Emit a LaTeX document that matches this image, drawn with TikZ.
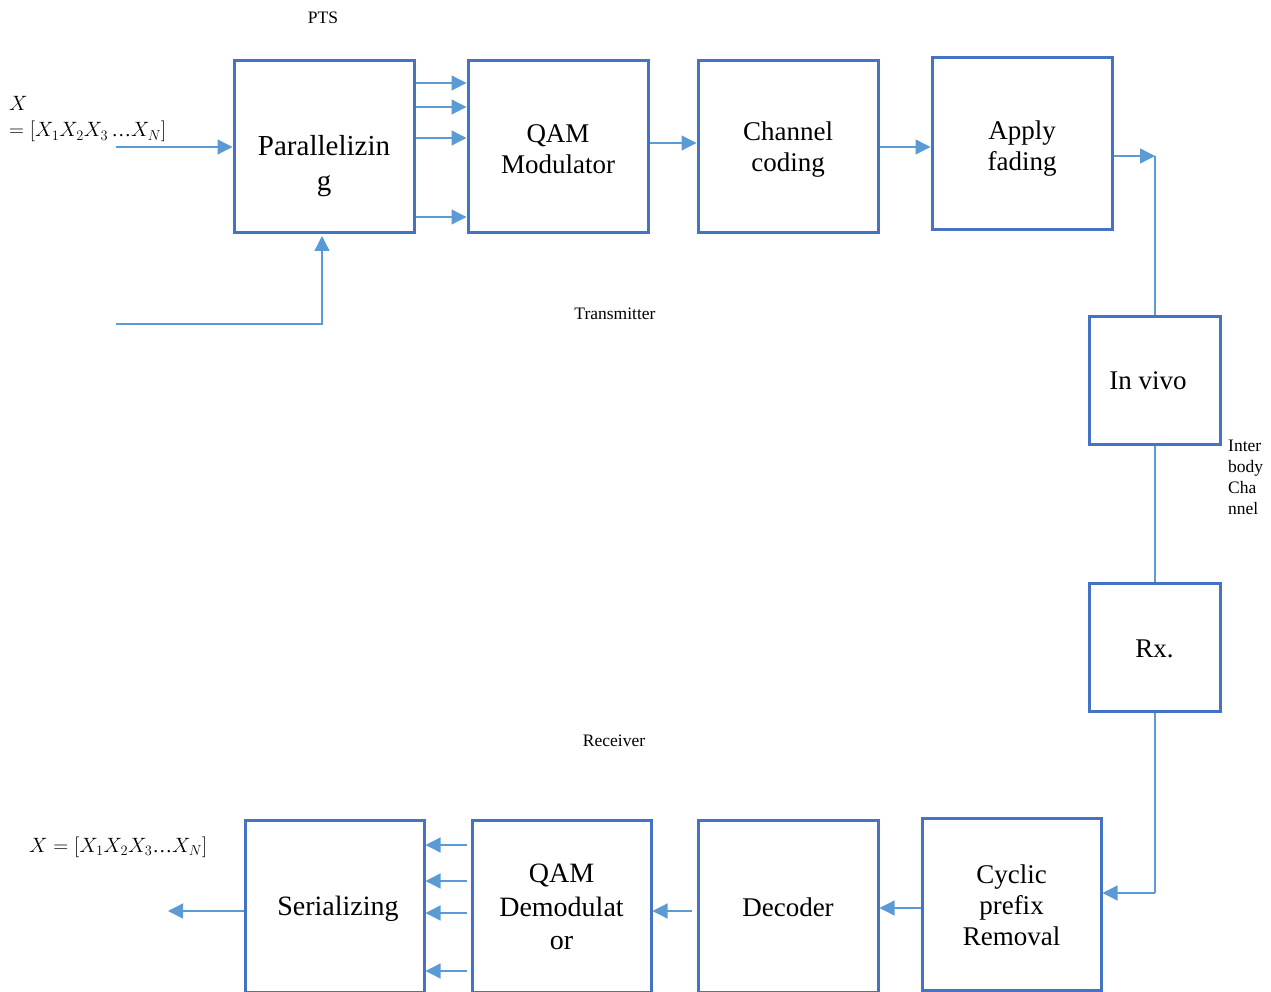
\documentclass[tikz,border=0pt]{standalone}
\usepackage{fontspec}
\setmainfont{Liberation Serif}
\usetikzlibrary{arrows.meta}
\definecolor{boxblue}{RGB}{68,114,196}
\definecolor{arrowblue}{RGB}{91,155,213}
\tikzset{
  box/.style={draw=boxblue, line width=3pt, minimum width=#1, inner sep=0pt},
  box/.default=180pt,
  txt/.style={align=center, font=\fontsize{27}{31}\selectfont, inner sep=0pt},
  bigtxt/.style={align=center, font=\fontsize{29}{35}\selectfont, inner sep=0pt},
  small/.style={font=\fontsize{17.5}{21}\selectfont, inner sep=0pt},
  conn/.style={draw=arrowblue, line width=1.3pt},
  arr/.style={-{Triangle[length=15pt,width=15pt]}},
}
\begin{document}
\begin{tikzpicture}[x=1pt,y=-1pt]
\useasboundingbox (0,0) rectangle (1271,992);
% transmitter chain
\node[box, minimum height=172pt] (par) at (324,147) {};
\node[bigtxt] (partxt) at (324,166) {Parallelizin\\g};
\node[box, minimum height=172pt] (qam) at (558,147) {};
\node[txt] (qamtxt) at (558,149) {QAM\\Modulator};
\node[box, minimum height=172pt] (chc) at (788,147) {};
\node[txt] (chctxt) at (788,150) {Channel\\coding};
\node[box, minimum height=172pt] (app) at (1022,144) {};
\node[txt] (apptxt) at (1022,149) {Apply\\fading};
\node[box=131pt, minimum height=128pt] (vivo) at (1154.5,380) {};
\node[txt] (vivotxt) at (1148,381) {In vivo};
\node[box=131pt, minimum height=128pt] (rx) at (1154.5,647) {};
\node[txt] (rxtxt) at (1154.5,649) {Rx.};
% receiver chain
\node[box=179pt, minimum height=172pt] (cyc) at (1011.5,904) {};
\node[txt] (cyctxt) at (1011.5,905) {Cyclic\\prefix\\Removal};
\node[box, minimum height=172pt] (dec) at (788,906) {};
\node[txt] (dectxt) at (788,907) {Decoder};
\node[box=179pt, minimum height=172pt] (dem) at (561.5,906) {};
\node[align=center, font=\fontsize{28}{33.5}\selectfont, inner sep=0pt] (demtxt) at (561.5,907) {QAM\\Demodulat\\or};
\node[box=179pt, minimum height=172pt] (ser) at (334.5,906) {};
\node[align=center, font=\fontsize{28}{33}\selectfont, inner sep=0pt] (sertxt) at (338,909) {Serializing};
% labels
\node[small] (pts) at (323,18) {PTS};
\node[small] (tx) at (615,314) {Transmitter};
\node[small] (rcv) at (614,741) {Receiver};
\node[small, anchor=north west, align=left] (ibc) at (1228,440) {Inter\\body\\Cha\\nnel};
\node[anchor=west, inner sep=0pt, align=left, font=\fontsize{19.5}{27}\selectfont] (xin) at (9,119) {$X$\\$=[X_1X_2X_3$\,…$X_N]$};
\node[anchor=west, inner sep=0pt, font=\fontsize{19.5}{23}\selectfont] (xout) at (29,847) {$X=[X_1X_2X_3$…$X_N]$};
% coordinates
\coordinate (in1) at (116,147);
\coordinate (in2) at (116,324);
\coordinate (c1) at (1155,156);
\coordinate (c2) at (1155,893);
\coordinate (out) at (168,911);
% connectors
\draw[conn,arr] (in1) -- (in1 -| par.west);
\draw[conn,arr] (in2) -- (in2 -| 322,0) -- (322,236);
\foreach \yy in {83,107,138,217}
  \draw[conn,arr] (par.east |- 0,\yy) -- (qam.west |- 0,\yy);
\draw[conn,arr] (qam.east |- 0,143) -- (chc.west |- 0,143);
\draw[conn,arr] (chc.east |- 0,147) -- (app.west |- 0,147);
\draw[conn,arr] (app.east |- c1) -- (c1);
\draw[conn] (c1) -- (vivo.north -| c1);
\draw[conn] (vivo.south -| c1) -- (rx.north -| c1);
\draw[conn] (rx.south -| c2) -- (c2);
\draw[conn,arr] (c2) -- (cyc.east |- c2);
\draw[conn,arr] (cyc.west |- 0,908) -- (dec.east |- 0,908);
\draw[conn,arr] ([xshift=-5pt]dec.west |- 0,911) -- (dem.east |- 0,911);
\foreach \yy in {845,881,913,971}
  \draw[conn,arr] ([xshift=-4pt]dem.west |- 0,\yy) -- (ser.east |- 0,\yy);
\draw[conn,arr] (ser.west |- out) -- (out);
\end{tikzpicture}
\end{document}
